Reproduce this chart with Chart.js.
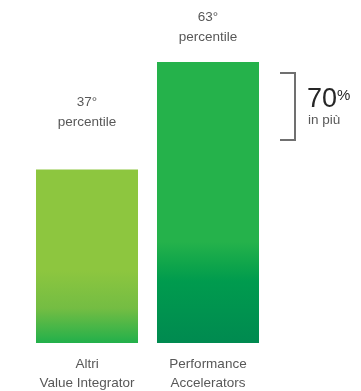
<!DOCTYPE html>
<html>
<head>
<meta charset="utf-8">
<script src="https://cdn.jsdelivr.net/npm/chart.js@4"></script>
<style>
    html, body { margin: 0; padding: 0; background: #fff; }
    #wrap { width: 361px; height: 391px; position: relative; }
</style>
</head>
<body>
<div id="wrap"><canvas id="percentileChart"></canvas></div>
<script>
// dati
const categories = [['Altri', 'Value Integrator'], ['Performance', 'Accelerators']];
const percentileValues = [37, 63];
const valueLabels = [['37°', 'percentile'], ['63°', 'percentile']];
const deltaText = '70';
const deltaUnit = '%';
const deltaNote = 'in più';

const TEXT_COLOR = '#585858';
const FONT = '"Liberation Sans", Arial, sans-serif';

// gradienti per barra: [posizione relativa, colore]
const barGradients = [
    [[0, '#8dc63f'], [0.58, '#8dc63f'], [0.8, '#74bd43'], [1, '#22b04b']],
    [[0, '#25b24b'], [0.64, '#25b24b'], [0.72, '#0fa54b'], [0.78, '#009b4e'], [1, '#008a50']]
];

function barColor(ctx) {
    const chart = ctx.chart;
    const yScale = chart.scales.y;
    if (!chart.chartArea || !yScale) return barGradients[ctx.dataIndex][0][1];
    const top = yScale.getPixelForValue(percentileValues[ctx.dataIndex]);
    const bottom = yScale.getPixelForValue(yScale.min);
    const g = chart.ctx.createLinearGradient(0, top, 0, bottom);
    barGradients[ctx.dataIndex].forEach(s => g.addColorStop(s[0], s[1]));
    return g;
}

// testi e parentesi disegnati sopra il grafico
const labelsPlugin = {
    id: 'labelsPlugin',
    afterDatasetsDraw(chart, args, opts) {
        const ctx = chart.ctx;
        const meta = chart.getDatasetMeta(0);
        ctx.save();
        ctx.fillStyle = TEXT_COLOR;
        ctx.textAlign = 'center';
        ctx.textBaseline = 'middle';
        ctx.font = '13.5px ' + FONT;

        meta.data.forEach((bar, i) => {
            const off = opts.labelOffsets[i];
            valueLabels[i].forEach((line, j) => {
                ctx.fillText(line, bar.x, bar.y - off + j * 20);
            });
            categories[i].forEach((line, j) => {
                ctx.fillText(line, bar.x, bar.base + 21 + j * 19);
            });
        });

        // parentesi
        ctx.strokeStyle = '#707070';
        ctx.lineWidth = 2;
        ctx.beginPath();
        ctx.moveTo(280, 73);
        ctx.lineTo(295, 73);
        ctx.lineTo(295, 140);
        ctx.lineTo(280, 140);
        ctx.stroke();

        ctx.textAlign = 'left';
        ctx.textBaseline = 'alphabetic';
        ctx.fillStyle = '#262626';
        ctx.font = '27px ' + FONT;
        ctx.fillText(deltaText, 307, 107);
        const w = ctx.measureText(deltaText).width;
        ctx.font = '15px ' + FONT;
        ctx.fillText(deltaUnit, 307 + w, 100);
        ctx.fillStyle = TEXT_COLOR;
        ctx.font = '13.5px ' + FONT;
        ctx.fillText(deltaNote, 308, 124);
        ctx.restore();
    }
};

document.addEventListener('DOMContentLoaded', function() {
    const ctx = document.getElementById('percentileChart').getContext('2d');
    new Chart(ctx, {
        type: 'bar',
        data: {
            labels: categories,
            datasets: [{
                data: percentileValues,
                base: -5,
                backgroundColor: barColor,
                borderWidth: 0,
                categoryPercentage: 1,
                barPercentage: 0.843
            }]
        },
        options: {
            responsive: true,
            maintainAspectRatio: false,
            animation: false,
            layout: { padding: { left: 26.5, right: 92.5, top: 62, bottom: 48 } },
            plugins: {
                legend: { display: false },
                tooltip: { enabled: false },
                labelsPlugin: { labelOffsets: [67, 44.5] }
            },
            scales: {
                x: { display: false },
                y: { display: false, min: -5, max: 63 }
            }
        },
        plugins: [labelsPlugin]
    });
});
</script>
</body>
</html>
